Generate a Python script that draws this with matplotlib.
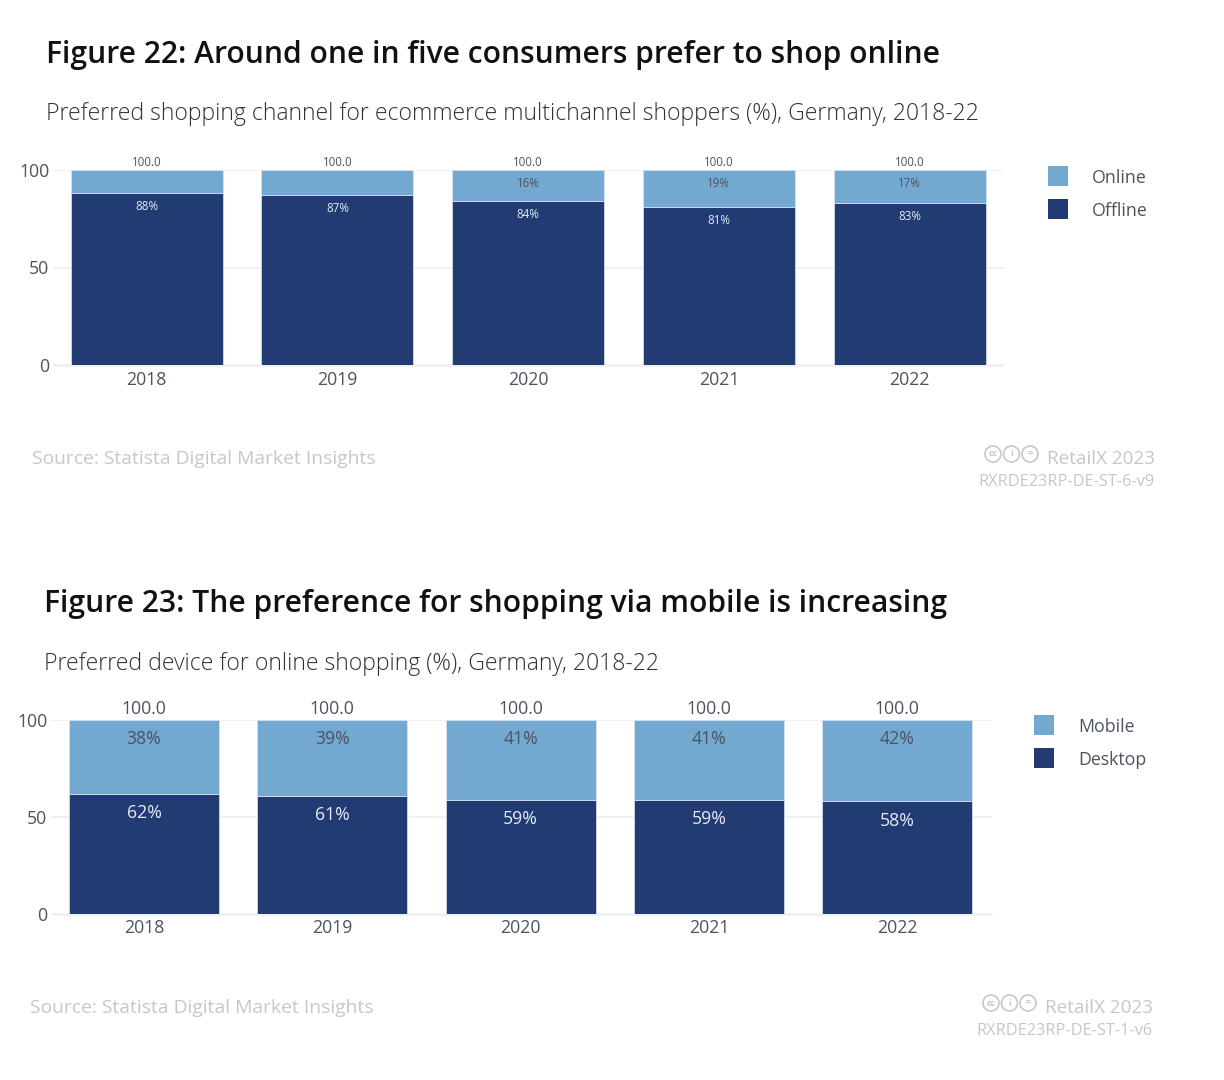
import matplotlib
matplotlib.use("Agg")
import matplotlib.pyplot as plt
from matplotlib.patches import Circle, Rectangle

plt.rcParams['font.family'] = ['Open Sans', 'DejaVu Sans']

W, H = 1224, 1080
NAVY = '#233b73'
LIGHT = '#73a9d0'
GREY = '#4e5260'
FAINT = '#c6c7c9'
GRID = '#eef0f4'

years = ['2018', '2019', '2020', '2021', '2022']
totals = ['100.0', '100.0', '100.0', '100.0', '100.0']

offline = [88, 87, 84, 81, 83]
online = [12, 13, 16, 19, 17]
online_labels = ['', '', '16%', '19%', '17%']

desktop = [62, 61, 59, 59, 58]
mobile = [38, 39, 41, 41, 42]
mobile_labels = ['38%', '39%', '41%', '41%', '42%']


def fx(x):
    return x / W


def fy(y):
    return 1 - y / H


def draw_panel(fig, box, xlim, low, high, high_labels, fs_bar, total_pad, bar_pad, x_pad):
    # box is left, top, right, bottom in pixels
    left, top, right, bottom = box
    ax = fig.add_axes([fx(left), fy(bottom), (right - left) / W, (bottom - top) / H])
    x = range(len(years))
    ax.bar(x, low, width=0.797, color=NAVY, edgecolor='#dce6f2', linewidth=0.5, zorder=3)
    ax.bar(x, high, width=0.797, bottom=low, color=LIGHT, edgecolor='#dce6f2', linewidth=0.5, zorder=3)
    ax.set_xlim(*xlim)
    ax.set_ylim(0, 100)
    ax.set_yticks([0, 50, 100])
    ax.set_xticks(list(x))
    ax.set_xticklabels(years)
    ax.tick_params(length=0, labelsize=12.7, colors=GREY)
    ax.tick_params(axis='x', pad=x_pad)
    ax.tick_params(axis='y', pad=2.7)
    ax.grid(axis='y', color=GRID, linewidth=1.3, zorder=0)
    for spine in ax.spines.values():
        spine.set_visible(False)
    ax.axhline(0, color=GRID, linewidth=2, zorder=1, clip_on=False, solid_capstyle='butt')

    for i in x:
        ax.annotate(totals[i], (i, 100), xytext=(0, total_pad), textcoords='offset points',
                    ha='center', va='bottom', fontsize=fs_bar, color=GREY)
        ax.annotate(f'{low[i]}%', (i, low[i]), xytext=(0, -bar_pad), textcoords='offset points',
                    ha='center', va='center', fontsize=fs_bar, color='#e4ebf5', zorder=4)
        if high_labels[i]:
            ax.annotate(high_labels[i], (i, 100), xytext=(0, -bar_pad), textcoords='offset points',
                        ha='center', va='center', fontsize=fs_bar, color=GREY, zorder=4)
    return ax


def draw_legend(fig, x, y, names):
    for k, (name, col) in enumerate(names):
        yy = y + k * 33
        fig.add_artist(Rectangle((fx(x), fy(yy + 10)), 20 / W, 20 / H, transform=fig.transFigure,
                                 facecolor=col, edgecolor='none'))
        fig.text(fx(x + 44), fy(yy + 2), name, fontsize=12.8, color=GREY, va='center', ha='left')


def draw_footer(fig, src_x, src_y, right_x, code, code_y):
    fig.text(fx(src_x), fy(src_y + 2), 'Source: Statista Digital Market Insights', fontsize=13.85, color=FAINT,
             va='center', ha='left')
    fig.text(fx(right_x), fy(src_y + 2), 'RetailX 2023', fontsize=13.6, color=FAINT, va='center', ha='right')
    fig.text(fx(right_x), fy(code_y + 2), code, fontsize=11.8, color=FAINT, va='center', ha='right')
    # little cc badges next to the RetailX mark
    base = right_x - 162
    for k, mark in enumerate(['cc', 'i', '=']):
        cx = base + k * 18.5
        cy = src_y - 3
        fig.add_artist(Circle((cx, H - cy), 8, transform=None, facecolor='white',
                              edgecolor=FAINT, linewidth=1.2))
        fig.text(fx(cx), fy(cy), mark, fontsize=6.5, color=FAINT, va='center', ha='center', fontweight='bold')


fig = plt.figure(figsize=(W / 100, H / 100), dpi=100, facecolor='white')

# Figure 22
fig.text(fx(46), fy(55), 'Figure 22: Around one in five consumers prefer to shop online',
         fontsize=21.57, fontweight='semibold', color='#111111', va='center', ha='left')
fig.text(fx(46), fy(114), 'Preferred shopping channel for ecommerce multichannel shoppers (%), Germany, 2018-22',
         fontsize=16.57, fontweight='light', color='#2f323a', va='center', ha='left')
draw_panel(fig, (53, 170, 1004, 365), (-0.491, 4.495), offline, online, online_labels, 8.3, 1, 9.7, 4)
draw_legend(fig, 1048, 176, [('Online', LIGHT), ('Offline', NAVY)])
draw_footer(fig, 32, 457, 1155, 'RXRDE23RP-DE-ST-6-v9', 480)

# Figure 23
fig.text(fx(44), fy(604), 'Figure 23: The preference for shopping via mobile is increasing',
         fontsize=21.57, fontweight='semibold', color='#111111', va='center', ha='left')
fig.text(fx(44), fy(664), 'Preferred device for online shopping (%), Germany, 2018-22',
         fontsize=16.57, fontweight='light', color='#2f323a', va='center', ha='left')
draw_panel(fig, (51, 720, 992, 914), (-0.494, 4.503), desktop, mobile, mobile_labels, 12.7, 1.5, 13.9, 3.5)
draw_legend(fig, 1034, 725, [('Mobile', LIGHT), ('Desktop', NAVY)])
draw_footer(fig, 30, 1006, 1153, 'RXRDE23RP-DE-ST-1-v6', 1029)

fig.savefig('out.png', dpi=100)
